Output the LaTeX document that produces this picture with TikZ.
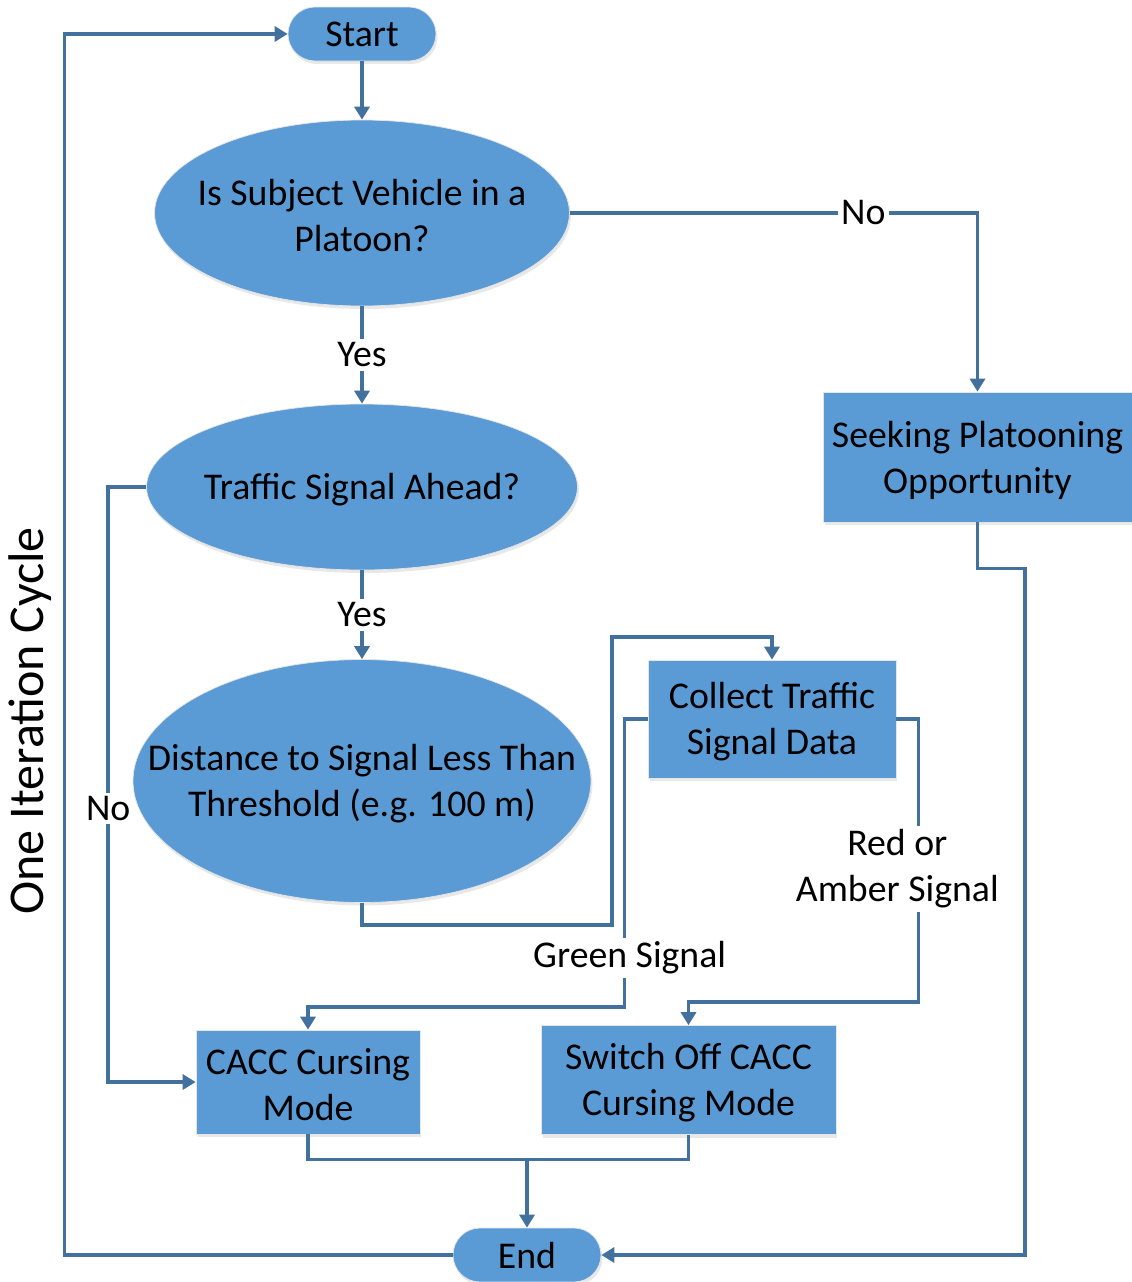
\documentclass[tikz,border=0pt]{standalone}
\usepackage{fontspec}
\setmainfont{Carlito}
\usetikzlibrary{arrows.meta, shapes.geometric, shadows}

\definecolor{boxblue}{HTML}{5B9BD5}
\definecolor{lineblue}{HTML}{41719C}

\begin{document}
\begin{tikzpicture}
[x=0.02cm, y=-0.02cm, font=\fontsize{21.5}{26.2}\selectfont,
 shape base/.style={fill=boxblue, draw=white!80!gray, thin, align=center, inner sep=0pt,
   drop shadow={shadow xshift=0.03cm, shadow yshift=-0.06cm, opacity=0.18, fill=gray}},
 terminal/.style={shape base, rectangle, rounded corners=0.54cm, minimum width=2.96cm, minimum height=1.08cm},
 decision/.style={shape base, ellipse},
 process/.style={shape base, rectangle},
 inside/.style={label={[align=center, yshift=-0.06cm]center:#1}},
 flow line/.style={draw=lineblue, line width=2pt},
 flow arrow/.style={flow line, -{Triangle[length=0.26cm, width=0.3cm]}},
 edge label/.style={fill=white, inner sep=2pt, align=center}]
    \useasboundingbox (0,0) rectangle (1132,1282);
    % shapes
    \node[terminal] (start) at (362,34) {Start};
    \node[decision, minimum width=8.3cm, minimum height=3.72cm,
      inside={Is Subject Vehicle in a\\Platoon?}] (platoon) at (362,213) {};
    \node[process, minimum width=6.18cm, minimum height=2.6cm,
      inside={Seeking Platooning\\Opportunity}] (seek) at (977.5,457) {};
    \node[decision, minimum width=8.62cm, minimum height=3.32cm,
      inside={Traffic Signal Ahead?}] (ahead) at (362,487) {};
    \node[decision, minimum width=9.16cm, minimum height=4.86cm,
      inside={Distance to Signal Less Than\\Threshold (e.g. 100 m)}] (dist) at (362,781) {};
    \node[process, minimum width=4.96cm, minimum height=2.36cm,
      inside={Collect Traffic\\Signal Data}] (collect) at (772,719) {};
    \node[process, minimum width=4.48cm, minimum height=2.08cm,
      inside={CACC Cursing\\Mode}] (cacc) at (308,1082) {};
    \node[process, minimum width=5.9cm, minimum height=2.18cm,
      inside={Switch Off CACC\\Cursing Mode}] (switch) at (688.5,1080) {};
    \node[terminal] (end) at (527,1255) {End};
    \node[rotate=90, font=\fontsize{28.5}{34}\selectfont] (cycle) at (30,721) {One Iteration Cycle};
    % connectors
    \draw[flow arrow] (start) -- (platoon);
    \draw[flow arrow] (platoon.east) -| node[edge label, pos=0.36] {No} (seek.north);
    \draw[flow arrow] (platoon.south) -- node[edge label] {Yes} (ahead.north);
    \draw[flow arrow] (ahead.south) -- node[edge label] {Yes} (dist.north);
    \draw[flow arrow] (ahead.west) -- ++(-38,0) |- node[edge label, pos=0.27] {No} (cacc.west);
    \draw[flow arrow] (dist.south) -- ++(0,22) -| ++(250,-288) -| (collect.north);
    \draw[flow arrow] (collect.west) -- ++(-23,0) -- ++(0,288) node[edge label, pos=0.83, xshift=0.1cm] {Green Signal} -| (cacc.north);
    \draw[flow arrow] (collect.east) -- ++(22,0) -- ++(0,283) node[edge label, pos=0.53, xshift=-0.42cm] {Red or\\Amber Signal} -| (switch.north);
    \draw[flow line] (cacc.south) -- ++(0,25) coordinate (merge) -| (switch.south);
    \draw[flow arrow] (merge -| end.north) -- (end.north);
    \draw[flow arrow] (seek.south) -- ++(0,46) -- ++(47.5,0) |- (end.east);
    \draw[flow arrow] (end.west) -- ++(-388,0) |- (start.west);
\end{tikzpicture}
\end{document}
